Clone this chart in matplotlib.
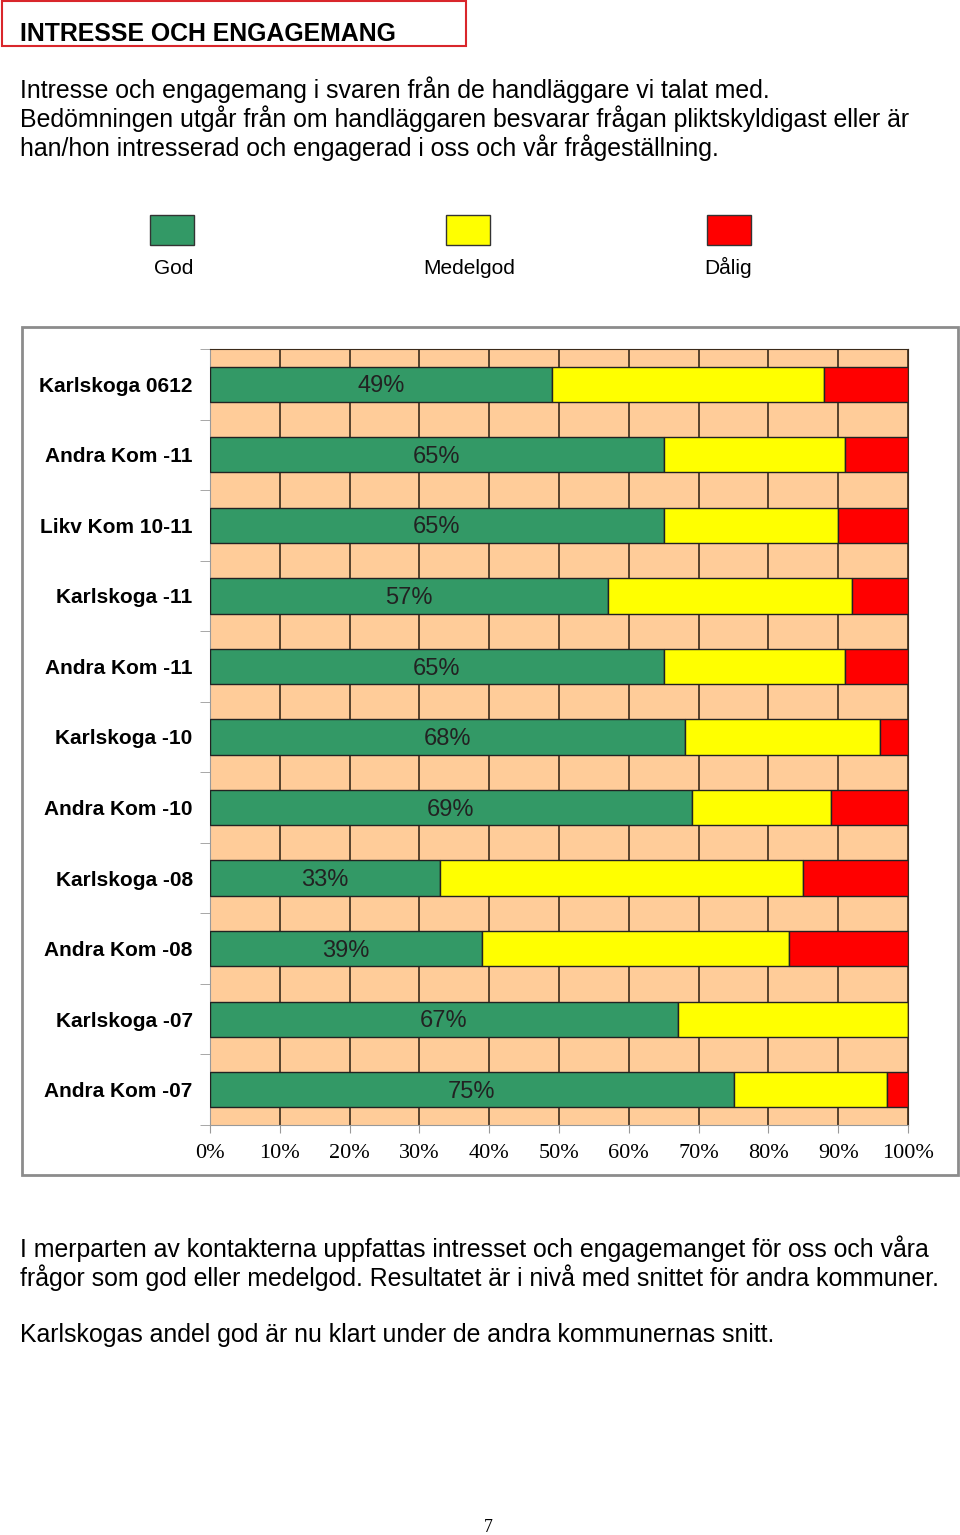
import numpy as np
import matplotlib.pyplot as plt
from matplotlib.patches import Rectangle

plt.rcParams['font.family'] = ['Liberation Sans', 'DejaVu Sans']

categories = ["Karlskoga 0612", "Andra Kom -11", "Likv Kom 10-11", "Karlskoga -11",
              "Andra Kom -11", "Karlskoga -10", "Andra Kom -10", "Karlskoga -08",
              "Andra Kom -08", "Karlskoga -07", "Andra Kom -07"]
god = [49, 65, 65, 57, 65, 68, 69, 33, 39, 67, 75]
medelgod = [39, 26, 25, 35, 26, 28, 20, 52, 44, 33, 22]
dalig = [12, 9, 10, 8, 9, 4, 11, 15, 17, 0, 3]
series_names = ["God", "Medelgod", "Dålig"]
xticks = [0, 10, 20, 30, 40, 50, 60, 70, 80, 90, 100]

colors = ["#339966", "#FFFF00", "#FF0000"]

W, H = 960, 1535
fig = plt.figure(figsize=(W / 100, H / 100), dpi=100)

def fx(px):
    return px / W

def fy(py):
    return 1 - py / H

# Rubrik med röd ram
fig.patches.append(Rectangle((fx(2), fy(46)), fx(464), 45 / H, transform=fig.transFigure,
                             fill=False, edgecolor="#d9262b", linewidth=1.5))
fig.text(fx(20), fy(34), "INTRESSE OCH ENGAGEMANG", fontsize=17.9, fontweight="bold",
         va="center", ha="left")

intro = ["Intresse och engagemang i svaren från de handläggare vi talat med.",
         "Bedömningen utgår från om handläggaren besvarar frågan pliktskyldigast eller är",
         "han/hon intresserad och engagerad i oss och vår frågeställning."]
for i, line in enumerate(intro):
    fig.text(fx(20), fy(90 + i * 28.7), line, fontsize=17.9, va="center", ha="left")

# Förklaring
box_x = [172, 468, 729]
lab_x = [174, 469, 728]
for name, c, bx, lx in zip(series_names, colors, box_x, lab_x):
    fig.patches.append(Rectangle((fx(bx - 22), fy(245)), 44 / W, 30 / H, transform=fig.transFigure,
                                 facecolor=c, edgecolor="#333333", linewidth=1))
    fig.text(fx(lx), fy(274), name, fontsize=15, ha="center", va="baseline")

# Diagramram
fig.patches.append(Rectangle((fx(22), fy(1175)), 936 / W, 848 / H, transform=fig.transFigure,
                             fill=False, edgecolor="#8c8c8c", linewidth=2))

ax = fig.add_axes([fx(210), fy(1125), 698 / W, 776 / H])
ax.set_facecolor("#FFCC99")
y = np.arange(len(categories))
left = np.zeros(len(categories))
for vals, c in zip([god, medelgod, dalig], colors):
    ax.barh(y, vals, left=left, height=0.5, color=c, edgecolor="#222222", linewidth=1, zorder=3)
    left = left + np.array(vals)

for yi, g in zip(y, god):
    ax.text(g / 2, yi + 0.03, f"{g}%", ha="center", va="center", fontsize=17, color="#222222", zorder=4)

ax.set_xlim(0, 100)
ax.set_ylim(len(categories) - 0.5, -0.5)
ax.set_xticks(xticks)
ax.set_xticklabels([f"{t}%" for t in xticks], family="Liberation Serif", fontsize=16)
ax.set_yticks(y)
ax.set_yticklabels(categories, fontsize=15, fontweight="bold")
ax.set_yticks(np.arange(len(categories) + 1) - 0.5, minor=True)
ax.tick_params(axis="y", which="major", length=0, pad=12.5)
ax.tick_params(axis="y", which="minor", length=7, color="#999999")
ax.tick_params(axis="x", length=6, color="#999999", pad=8)
ax.grid(axis="x", which="major", color="#3a2a1a", linewidth=1.2)
ax.set_axisbelow(True)
for side in ["top", "right"]:
    ax.spines[side].set_color("#3a2a1a")
for side in ["left", "bottom"]:
    ax.spines[side].set_color("#999999")

# Slutsats
outro = ["I merparten av kontakterna uppfattas intresset och engagemanget för oss och våra",
         "frågor som god eller medelgod. Resultatet är i nivå med snittet för andra kommuner."]
for i, line in enumerate(outro):
    fig.text(fx(20), fy(1249 + i * 28.7), line, fontsize=17.9, va="center", ha="left")
fig.text(fx(20), fy(1335), "Karlskogas andel god är nu klart under de andra kommunernas snitt.",
         fontsize=17.9, va="center", ha="left")

fig.text(fx(488), fy(1527), "7", family="Liberation Serif", fontsize=13, ha="center", va="center")

fig.savefig("out.png", dpi=100, facecolor="white")
